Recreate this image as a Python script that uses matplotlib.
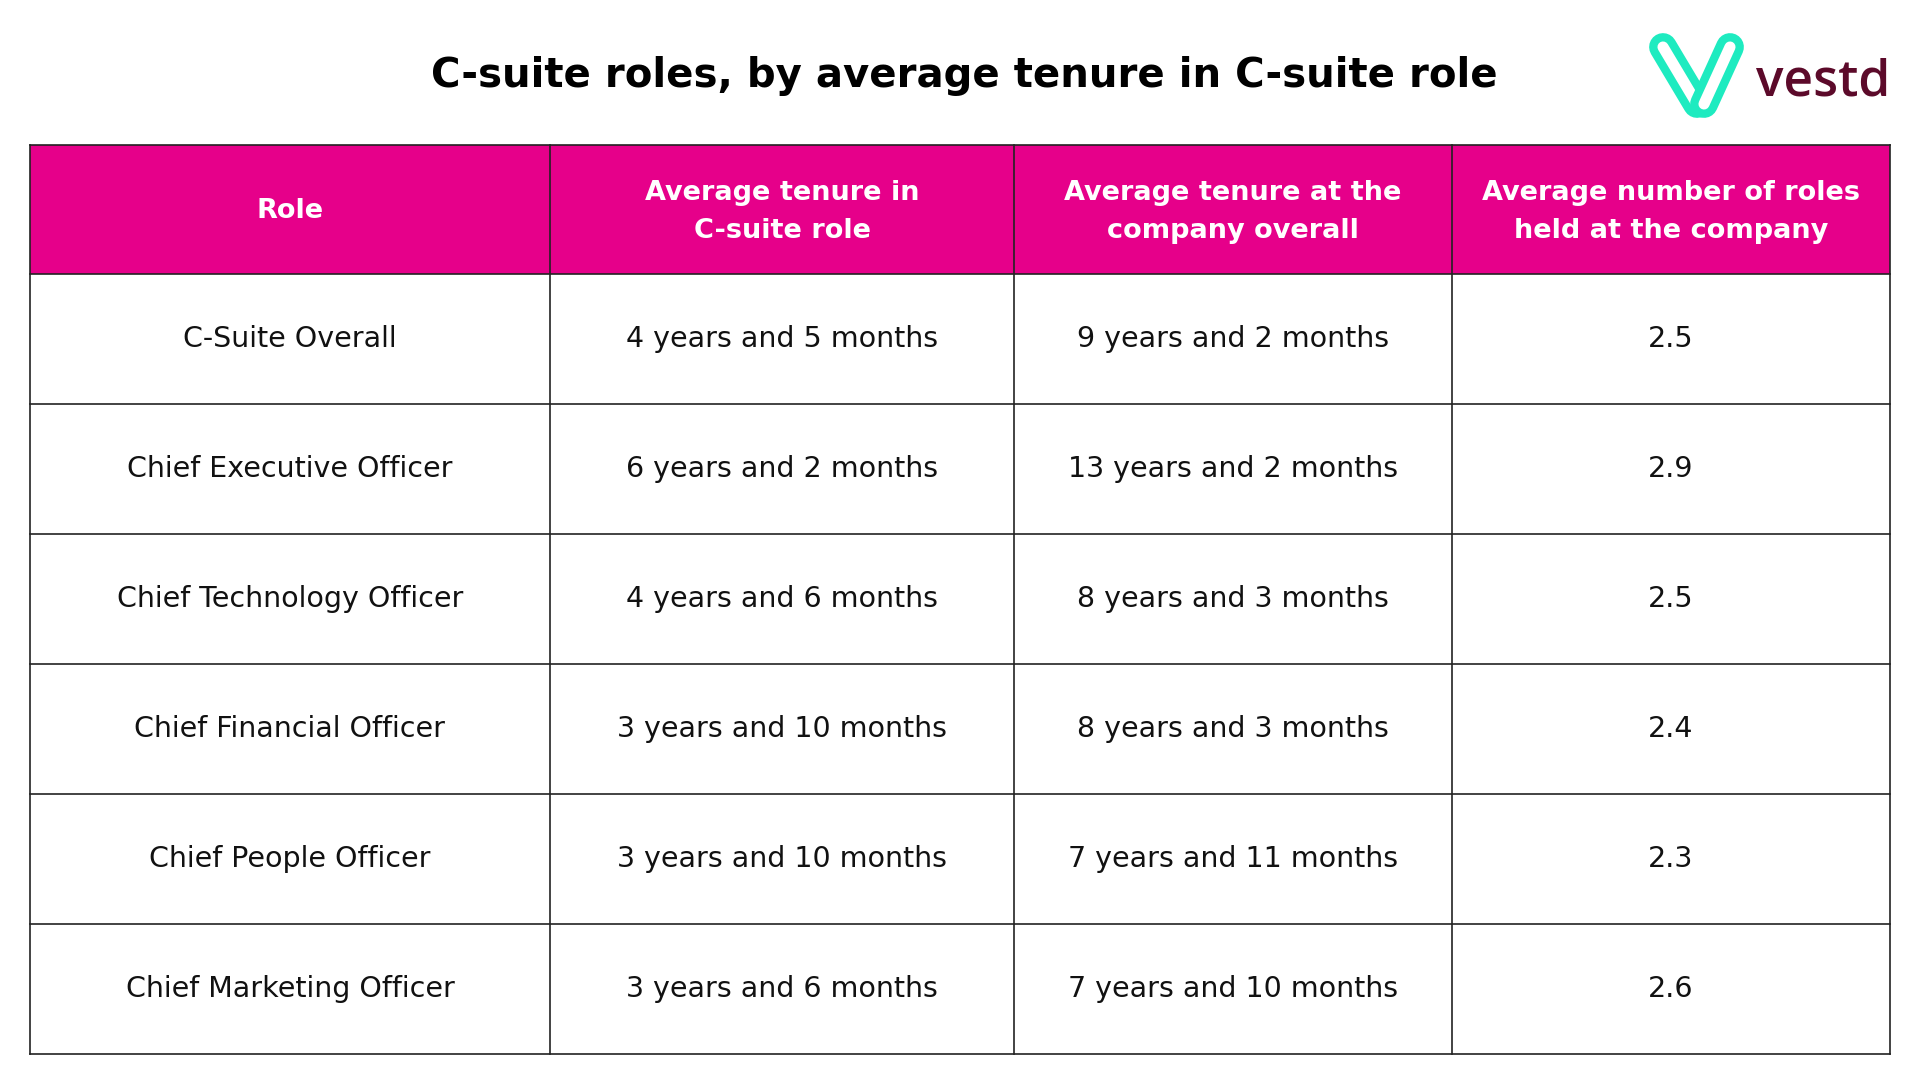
import matplotlib.pyplot as plt

TITLE = "C-suite roles, by average tenure in C-suite role"
HEADERS = ["Role", "Average tenure in\nC-suite role", "Average tenure at the\ncompany overall",
           "Average number of roles\nheld at the company"]
ROLES = ["C-Suite Overall", "Chief Executive Officer", "Chief Technology Officer",
         "Chief Financial Officer", "Chief People Officer", "Chief Marketing Officer"]
TENURE_ROLE = ["4 years and 5 months", "6 years and 2 months", "4 years and 6 months",
               "3 years and 10 months", "3 years and 10 months", "3 years and 6 months"]
TENURE_COMPANY = ["9 years and 2 months", "13 years and 2 months", "8 years and 3 months",
                  "8 years and 3 months", "7 years and 11 months", "7 years and 10 months"]
NUM_ROLES = [2.5, 2.9, 2.5, 2.4, 2.3, 2.6]

PINK = "#E6008A"
TEAL = "#1EEBC0"
WINE = "#5C0A2A"

fig = plt.figure(figsize=(19.2, 10.8), dpi=100)
ax = fig.add_axes([0, 0, 1, 1])
ax.set_xlim(0, 1920)
ax.set_ylim(1080, 0)
ax.axis("off")

ax.text(964, 76, TITLE, ha="center", va="center", fontsize=29, fontweight="bold",
        family="DejaVu Sans", color="black")

# logo
for (x0, y0, x1, y1) in [(1663, 47, 1697, 104), (1730, 47, 1704, 104)]:
    ax.plot([x0, x1], [y0, y1], color=TEAL, lw=20, solid_capstyle="round", zorder=3)
    ax.plot([x0, x1], [y0, y1], color="white", lw=8, solid_capstyle="round", zorder=3)
ax.text(1756, 95, "vestd", ha="left", va="baseline", fontsize=37, color=WINE,
        family="Open Sans", fontweight="semibold")

cols = [30, 550, 1014, 1452, 1890]
head_top, head_bot, row_h = 145, 274, 130

ax.add_patch(plt.Rectangle((cols[0], head_top), cols[-1] - cols[0], head_bot - head_top,
                           facecolor=PINK, edgecolor="none"))
for i, h in enumerate(HEADERS):
    ax.text((cols[i] + cols[i + 1]) / 2, (head_top + head_bot) / 2 + 2, h, ha="center", va="center",
            fontsize=19.5, fontweight="bold", color="white", family="DejaVu Sans", linespacing=1.6)

rows = list(zip(ROLES, TENURE_ROLE, TENURE_COMPANY, [f"{v:.1f}" for v in NUM_ROLES]))
bottom = head_bot + row_h * len(rows)
for r, row in enumerate(rows):
    yc = head_bot + row_h * (r + 0.5)
    for i, val in enumerate(row):
        ax.text((cols[i] + cols[i + 1]) / 2, yc, val, ha="center", va="center",
                fontsize=20.5, color="#111111", family="DejaVu Sans")

# grid lines
for x in cols:
    ax.plot([x, x], [head_top, bottom], color="#222222", lw=1.2)
for k in range(len(rows) + 2):
    y = head_top if k == 0 else head_bot + row_h * (k - 1)
    ax.plot([cols[0], cols[-1]], [y, y], color="#222222", lw=1.2)

fig.savefig("out.png", dpi=100, facecolor="white")
